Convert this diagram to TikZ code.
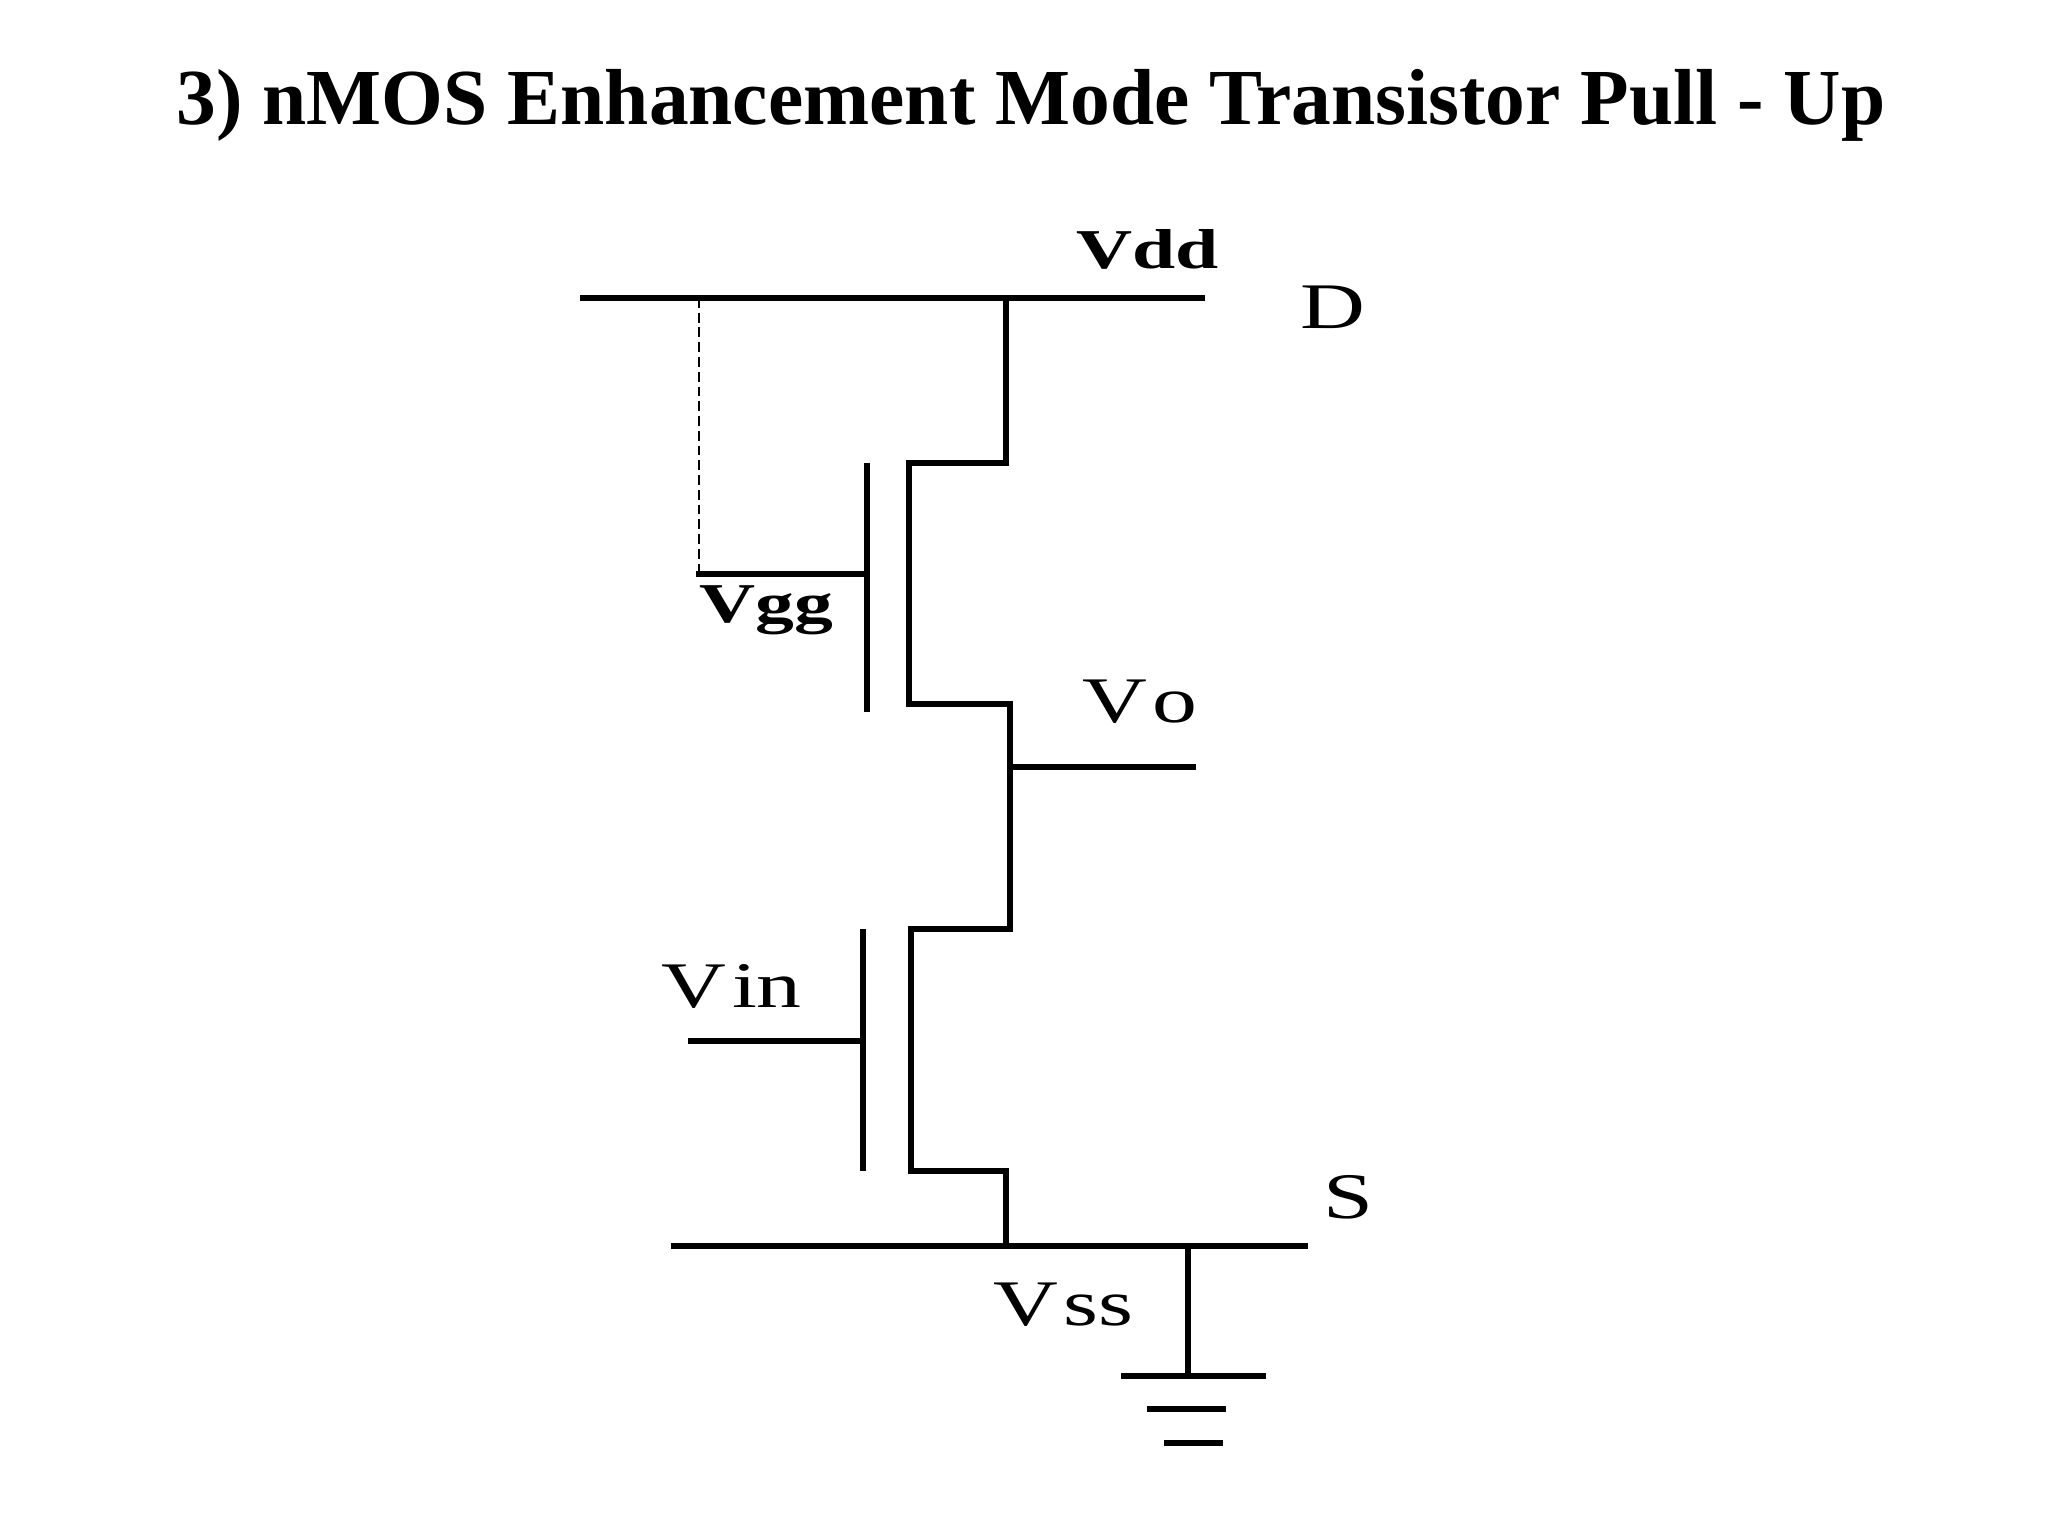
\documentclass[tikz,border=0pt]{standalone}
\usepackage{fontspec}
\setmainfont{Liberation Serif}
\newfontfamily\widefont[FakeStretch=1.38]{Liberation Serif}
\tikzset{
    wire/.style={line width=1.5pt, line cap=rect},
    tie/.style={line width=0.6pt, dash pattern=on 2.8pt off 1.4pt},
    lab/.style={anchor=base west, inner sep=0pt, font=\widefont\fontsize{18.5}{20}\selectfont},
    boldlab/.style={lab, font=\widefont\bfseries\fontsize{16}{18}\selectfont}
}
\begin{document}
\begin{tikzpicture}
    \useasboundingbox (0,0) rectangle (20.48,15.36);

    \node[anchor=base, inner sep=0pt, font=\bfseries\fontsize{22.6}{26}\selectfont] (title) at (10.31,14.11)
        {3) nMOS Enhancement Mode Transistor Pull - Up};

    % rails
    \coordinate (ddL) at (5.83,12.38);
    \coordinate (ddR) at (12.02,12.38);
    \coordinate (ddA) at (6.99,12.38);
    \coordinate (ddB) at (10.06,12.38);
    \coordinate (ssL) at (6.74,2.90);
    \coordinate (ssR) at (13.05,2.90);
    \coordinate (ssA) at (10.06,2.90);
    \coordinate (ssB) at (11.88,2.90);
    \draw[wire] (ddL) -- (ddR);
    \draw[wire] (ssL) -- (ssR);

    % pull-up transistor
    \coordinate (upA) at (10.06,10.73);
    \coordinate (upB) at (9.09,10.73);
    \coordinate (upC) at (9.09,8.32);
    \coordinate (mid) at (10.10,8.32);
    \coordinate (plA) at (8.67,10.73);
    \coordinate (plB) at (8.67,8.24);
    \coordinate (gUp) at (8.67,9.62);
    \coordinate (gUpL) at (6.99,9.62);
    \draw[wire] (ddB) -- (upA) -- (upB) -- (upC) -- (mid);
    \draw[wire, line cap=butt] (plA) -- (plB);
    \draw[wire] (gUpL) -- (gUp);
    \draw[tie] (ddA) -- (gUpL);

    % output
    \coordinate (midB) at (10.10,6.07);
    \coordinate (outA) at (10.10,7.69);
    \coordinate (outB) at (11.93,7.69);
    \draw[wire] (mid) -- (midB);
    \draw[wire] (outA) -- (outB);

    % driver transistor
    \coordinate (dnB) at (9.11,6.07);
    \coordinate (dnC) at (9.11,3.65);
    \coordinate (dnD) at (10.06,3.65);
    \coordinate (plC) at (8.63,6.07);
    \coordinate (plD) at (8.63,3.65);
    \coordinate (gDn) at (8.63,4.95);
    \coordinate (gDnL) at (6.91,4.95);
    \draw[wire] (midB) -- (dnB) -- (dnC) -- (dnD) -- (ssA);
    \draw[wire, line cap=butt] (plC) -- (plD);
    \draw[wire] (gDnL) -- (gDn);

    % ground
    \coordinate (gndT) at (11.88,1.60);
    \coordinate (g1L) at (11.24,1.60);
    \coordinate (g1R) at (12.63,1.60);
    \coordinate (g2L) at (11.50,1.27);
    \coordinate (g2R) at (12.23,1.27);
    \coordinate (g3L) at (11.67,0.93);
    \coordinate (g3R) at (12.20,0.93);
    \draw[wire] (ssB) -- (gndT);
    \draw[wire] (g1L) -- (g1R);
    \draw[wire] (g2L) -- (g2R);
    \draw[wire] (g3L) -- (g3R);

    % labels
    \node[boldlab] (vdd) at (10.76,12.67) {Vdd};
    \node[lab] (dlab) at (13.00,12.07) {D};
    \node[boldlab] (vgg) at (6.99,9.13) {Vgg};
    \node[lab] (vo) at (10.82,8.13) {V\kern1.4pt o};
    \node[lab] (vin) at (6.61,5.28) {V\kern1.6pt in};
    \node[lab] (slab) at (13.23,3.17) {S};
    \node[lab] (vss) at (9.93,2.10) {V\kern1.5pt ss};
\end{tikzpicture}
\end{document}
